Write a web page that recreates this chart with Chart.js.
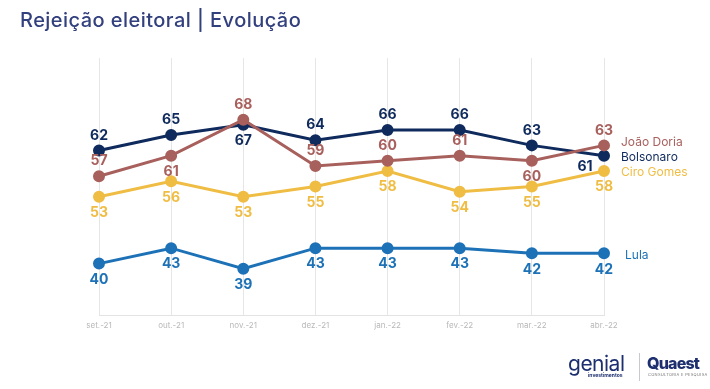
<!DOCTYPE html>
<html>
<head>
<meta charset="utf-8">
<script src="https://cdn.jsdelivr.net/npm/chart.js@4/dist/chart.umd.min.js"></script>
<style>
  html, body { margin: 0; padding: 0; background: #fff; }
  #wrap { position: relative; width: 710px; height: 389px; overflow: hidden; }
  #title { position: absolute; left: 20px; top: 8px; font: 500 20px Inter, sans-serif; color: #33407e; letter-spacing: 0.45px; }
  .logo { position: absolute; font-family: Inter, sans-serif; color: #1d2f6f; white-space: nowrap; }
</style>
</head>
<body>
<div id="wrap">
  <canvas id="chart" width="710" height="389"></canvas>
  <div id="title">Rejeição eleitoral | Evolução</div>
  <div class="logo" style="left:568px;top:351px;font-size:21px;font-weight:400;letter-spacing:-0.5px;">genial</div>
  <div class="logo" style="left:588px;top:372px;font-size:5px;font-weight:700;">investimentos</div>
  <div style="position:absolute;left:639px;top:353px;width:1px;height:28px;background:#c8c8d0;"></div>
  <div class="logo" style="left:647px;top:353px;font-size:16px;font-weight:800;letter-spacing:-0.8px;">Quaest</div>
  <div class="logo" style="left:648px;top:372px;font-size:4px;color:#777;letter-spacing:0.3px;">CONSULTORIA E PESQUISA</div>
</div>
<script>
var categories = ['set.-21', 'out.-21', 'nov.-21', 'dez.-21', 'jan.-22', 'fev.-22', 'mar.-22', 'abr.-22'];
var doria = [57, 61, 68, 59, 60, 61, 60, 63];
var bolsonaro = [62, 65, 67, 64, 66, 66, 63, 61];
var ciro = [53, 56, 53, 55, 58, 54, 55, 58];
var lula = [40, 43, 39, 43, 43, 43, 42, 42];

// where each value label sits relative to its point
var doriaPos = ['up', 'down', 'up', 'up', 'up', 'up', 'down', 'up'];
var bolsonaroPos = ['up', 'up', 'down', 'up', 'up', 'up', 'up', 'downleft'];
var ciroPos = ['down', 'down', 'down', 'down', 'down', 'down', 'down', 'down'];
var lulaPos = ['down', 'down', 'down', 'down', 'down', 'down', 'down', 'down'];

function series(name, data, color, pos, nameDx, nameDy) {
  return {
    label: name,
    data: data,
    borderColor: color,
    backgroundColor: color,
    pointBackgroundColor: color,
    pointBorderColor: color,
    borderWidth: 3,
    pointRadius: 4.5,
    pointHoverRadius: 4.5,
    tension: 0,
    labelPos: pos,
    nameDx: nameDx,
    nameDy: nameDy
  };
}

var valueLabels = {
  id: 'valueLabels',
  afterDatasetsDraw: function (chart) {
    var ctx = chart.ctx;
    ctx.save();
    chart.data.datasets.forEach(function (ds, i) {
      var meta = chart.getDatasetMeta(i);
      ctx.fillStyle = ds.borderColor;
      ctx.font = 'bold 14px Inter, sans-serif';
      ctx.textAlign = 'center';
      ctx.textBaseline = 'middle';
      meta.data.forEach(function (pt, j) {
        var p = ds.labelPos[j];
        var x = pt.x, y = pt.y;
        if (p === 'up') y -= 15;
        else if (p === 'down') y += 16;
        else if (p === 'downleft') { x -= 19; y += 11; }
        ctx.fillText(String(ds.data[j]), x, y);
      });
      // series name to the right of the last point
      var last = meta.data[meta.data.length - 1];
      ctx.font = '12px Inter, sans-serif';
      ctx.textAlign = 'left';
      ctx.fillText(ds.label, chart.chartArea.right + 17 + ds.nameDx, last.y + ds.nameDy);
    });
    ctx.restore();
  }
};

new Chart(document.getElementById('chart'), {
  type: 'line',
  data: {
    labels: categories,
    datasets: [
      series('João Doria', doria, '#a8605d', doriaPos, 0, -3),
      series('Bolsonaro', bolsonaro, '#0f2a5c', bolsonaroPos, 0, 2),
      series('Ciro Gomes', ciro, '#f0bd44', ciroPos, 0, 1),
      series('Lula', lula, '#1d72b7', lulaPos, 4, 2)
    ]
  },
  options: {
    responsive: false,
    animation: false,
    layout: { padding: { left: 99, right: 106, top: 58, bottom: 54 } },
    plugins: {
      legend: { display: false },
      tooltip: { enabled: false },
      title: { display: false }
    },
    scales: {
      y: { display: false, min: 30, max: 80 },
      x: {
        afterFit: function (s) { s.height = 20; },
        grid: { color: '#e6e6e6', lineWidth: 1, tickLength: 0, drawTicks: false },
        border: { display: true, color: '#e3e3e3' },
        ticks: { color: '#b8b8b8', font: { family: 'Inter, sans-serif', size: 8 }, padding: 6, maxRotation: 0 }
      }
    }
  },
  plugins: [valueLabels]
});
</script>
</body>
</html>
